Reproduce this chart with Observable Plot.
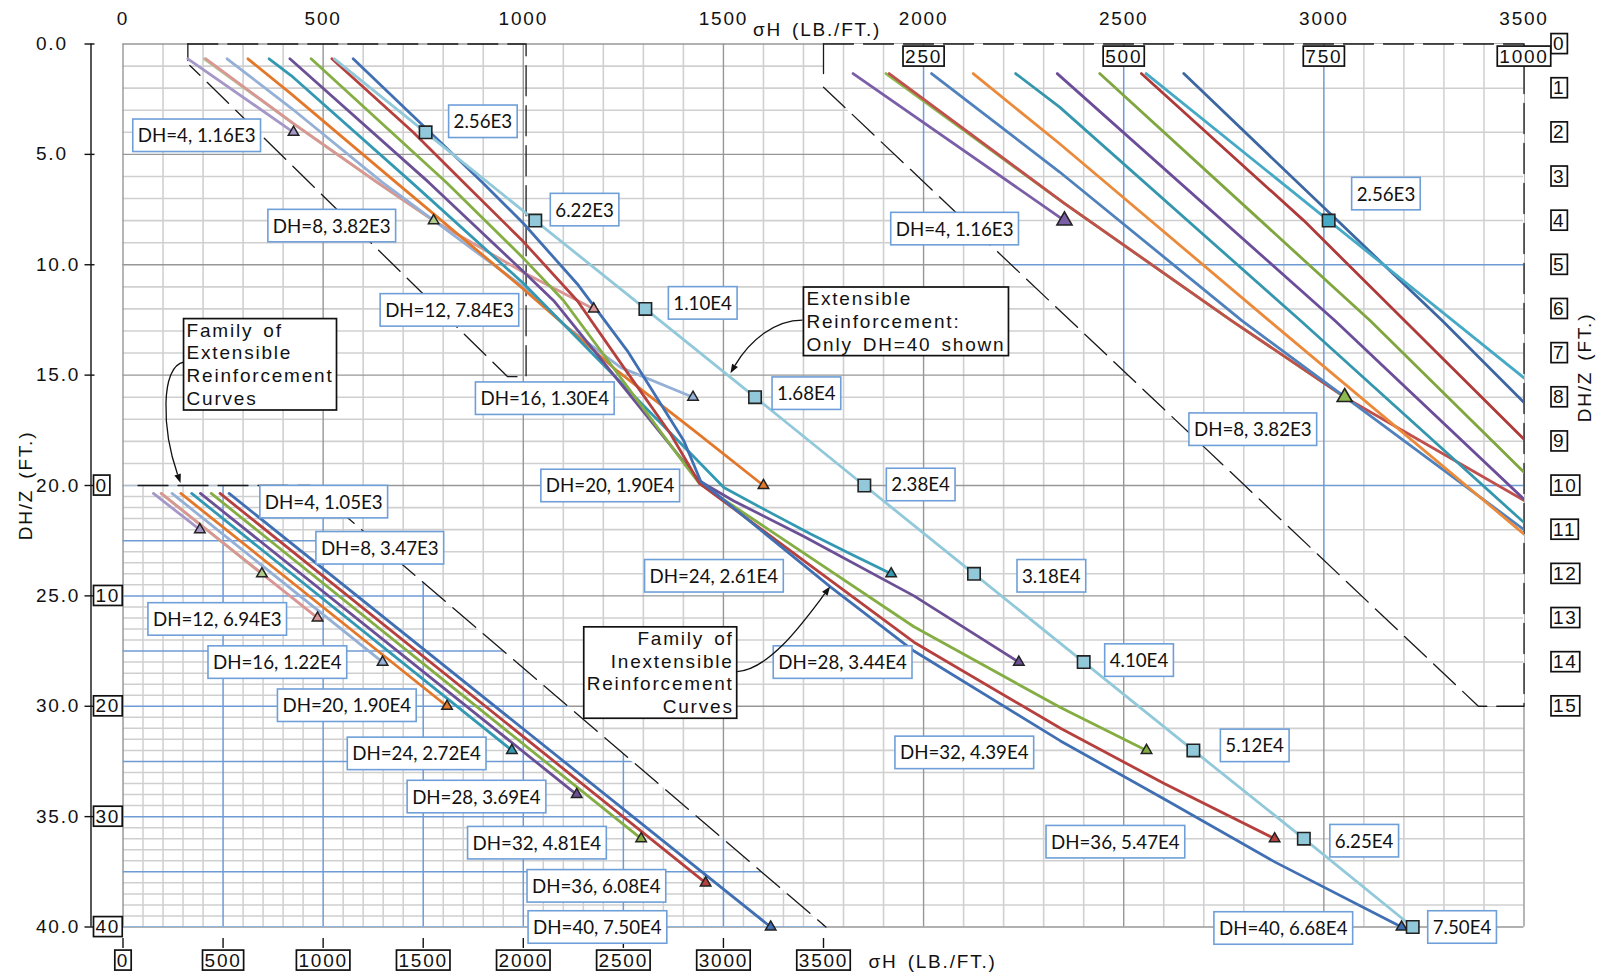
<!DOCTYPE html>
<html>
<head>
<meta charset="utf-8">
<script src="https://cdn.jsdelivr.net/npm/d3@7"></script>
<script src="https://cdn.jsdelivr.net/npm/@observablehq/plot@0.6"></script>
<style>
  html, body { margin: 0; padding: 0; background: #fff; }
  #chart svg { display: block; }
</style>
</head>
<body>
<div id="chart"></div>
<script>
// ---------------------------------------------------------------------------
// Inextensible reinforcement curves, points are [σH (lb/ft), DH/Z (ft)]
// ---------------------------------------------------------------------------
const inextDH4  = [[162, 0.67], [426, 4]];
const inextDH8  = [[203, 0.67], [425, 3.6], [635, 6.27], [776, 8]];
const inextDH12 = [[207, 0.67], [425, 3.6], [635, 6.27], [776, 8], [1008, 10.42], [1176, 12]];
const inextDH16 = [[260, 0.67], [420, 2.9], [648, 6.27], [1000, 11.0], [1110, 12.84], [1243, 14.65], [1424, 16]];
const inextDH20 = [[312, 0.67], [420, 2.26], [682, 6.27], [1000, 11.1], [1234, 14.8], [1426, 17.5], [1600, 20]];
const inextDH24 = [[365, 0.67], [420, 1.43], [721, 6.27], [1000, 10.84], [1043, 11.63], [1426, 18.7], [1501, 20.09], [1609, 21.15], [1718, 22.2], [1818, 23.1], [1919, 24]];
const inextDH28 = [[417, 0.67], [764, 6.27], [1000, 10.31], [1076, 11.63], [1440, 19.8], [1526, 20.7], [1700, 22.3], [1976, 25.0], [2238, 28]];
const inextDH32 = [[470, 0.67], [808, 6.27], [1000, 9.7], [1101, 11.63], [1410, 19.2], [1440, 19.9], [1976, 26.4], [2342, 30.06], [2557, 32]];
const inextDH36 = [[522, 0.67], [725, 4], [851, 6.27], [1000, 8.95], [1135, 11.63], [1251, 14.65], [1368, 17.67], [1440, 19.9], [1976, 27.1], [2342, 31.0], [2601, 33.5], [2877, 36]];
const inextDH40 = [[575, 0.67], [767, 4], [898, 6.27], [1000, 8.12], [1135, 10.87], [1260, 13.9], [1401, 17.97], [1443, 19.8], [1768, 24.6], [1976, 27.5], [2342, 31.57], [2601, 34.2], [2877, 37.05], [3194, 40]];

const inextLabels = ["DH=4, 1.16E3", "DH=8, 3.82E3", "DH=12, 7.84E3", "DH=16, 1.30E4", "DH=20, 1.90E4",
                     "DH=24, 2.61E4", "DH=28, 3.44E4", "DH=32, 4.39E4", "DH=36, 5.47E4", "DH=40, 6.68E4"];

// Extensible reinforcement, DH = 40 (square markers every 4 ft)
const extDH40Main = [[528, 0.67], [756, 4], [1030, 8], [1305, 12], [1579, 16], [1852, 20],
                     [2126, 24], [2400, 28], [2674, 32], [2950, 36], [3222, 40]];
const extLabels = ["2.56E3", "6.22E3", "1.10E4", "1.68E4", "2.38E4", "3.18E4", "4.10E4", "5.12E4", "6.25E4", "7.50E4"];

// Extensible family (reduced view, its own σH 0–3500 and DH/Z 0–40 scale)
const extDH4  = [[152, 0.72], [384, 4]];
const extDH8  = [[191, 0.72], [694, 8]];
const extDH12 = [[191, 0.72], [972, 12]];
const extDH16 = [[245, 0.72], [1297, 16]];
const extDH20 = [[289, 0.72], [1619, 20]];
const extDH24 = [[343, 0.72], [1943, 24]];
const extDH28 = [[387, 0.72], [2267, 28]];
const extDH32 = [[441, 0.72], [2589, 32]];
const extDH36 = [[485, 0.72], [2911, 36]];
const extDH40 = [[530, 0.72], [3236, 40]];
const extFamilyLabels = ["DH=4, 1.05E3", "DH=8, 3.47E3", "DH=12, 6.94E3", "DH=16, 1.22E4", "DH=20, 1.90E4",
                         "DH=24, 2.72E4", "DH=28, 3.69E4", "DH=32, 4.81E4", "DH=36, 6.08E4", "DH=40, 7.50E4"];

// Axis tick values
const xTicks = [0, 500, 1000, 1500, 2000, 2500, 3000, 3500];
const yTicks = [0, 5, 10, 15, 20, 25, 30, 35, 40];
const enlargedTicksX = [250, 500, 750, 1000];
const enlargedTicksY = [0, 1, 2, 3, 4, 5, 6, 7, 8, 9, 10, 11, 12, 13, 14, 15];
const reducedTicksX = [0, 500, 1000, 1500, 2000, 2500, 3000, 3500];
const reducedTicksY = [0, 10, 20, 30, 40];

// Outlines of the enlarged (upper right) and reduced (lower left) views, in their own units,
// and the outline of the source region in the main units
const enlargedFrame = [[125, 0], [1000, 0], [1000, 15], [943, 15], [125, 0.98]];
const enlargedStub = [[125, 0], [125, 0.67]];
const reducedFrame = [[0, 0], [934, 0], [3512, 40], [0, 40]];
const reducedEdge = [[75, 0], [934, 0], [3512, 40]];
const sourceRegionEdge = [[162, 0], [1007, 0], [1007, 15.07], [961, 15.07], [167, 0.97]];
const sourceRegionStub = [[162, 0], [162, 0.75]];

// Annotations
const noteText = ["Family of\nExtensible\nReinforcement\nCurves",
                  "Extensible\nReinforcement:\nOnly DH=40 shown",
                  "Family of\nInextensible\nReinforcement\nCurves"];

// ---------------------------------------------------------------------------
// Styling and layout
// ---------------------------------------------------------------------------
const lightPalette = ["#a597c8", "#aecb8a", "#d99694", "#95b0d6", "#e3782b", "#3399b3", "#6c5096", "#84ad44", "#b5403e", "#4070b3"];
const darkPalette  = ["#7b5ea8", "#8db94f", "#c0504d", "#4f81bd", "#ea8a3a", "#3597ae", "#6b4d99", "#7fa63f", "#ae3a3a", "#3d67a2"];
const extMainColor = "#92c9da";
const extEnlargedColor = "#46a9c5";

const toEnlarged = ([s, z]) => [1500 + 2 * s, 2 * z];   // enlarged view drawn at twice the scale
const toReduced = ([s, z]) => [s / 2, 20 + z / 2];      // reduced view drawn at half the scale

const inextCurves = [inextDH4, inextDH8, inextDH12, inextDH16, inextDH20, inextDH24, inextDH28, inextDH32, inextDH36, inextDH40];
const extFamily = [extDH4, extDH8, extDH12, extDH16, extDH20, extDH24, extDH28, extDH32, extDH36, extDH40];

// label offsets in pixels from their marker: [dx, dy, anchor]
const inextLabelShift = [[-38, 4], [-43, 6], [-80, 2], [-84, 2], [-89, 1], [-113, 3], [-112, 1], [-118, 3], [-95, 4], [-54, 2]];
const extLabelShift = [[28, -10], [20, -10], [28, -5], [22, -3], [27, 0], [48, 3], [26, -1], [32, -4], [31, 3], [20, 1]];
const familyLabelShift = [[65, -27, "start"], [59, -25, "start"], [-36, 2], [-41, 1], [-36, 0], [-31, 4], [-36, 3], [-40, 5], [-45, 4], [-109, 1]];
const enlargedLabelShift = [[-51, 9, "end"], [-33, 33, "end"], [28, -26, "start"]];
const noteTextShift = [[5.5, -122, "start"], [79, -54.6, "start"], [-97, 84.7, "end"]];
const noteArrowPath = [
  [[3.5, -123], [-20.5, -119], [-18.5, -55], [0, -2]],
  [[75.5, -54.6], [48, -54.6], [23, -34.6], [3.5, -1.5]],
  [[-93, 85], [-60, 83], [-25, 33], [0, 0]]
];

// ---------------------------------------------------------------------------
// Derived rows
// ---------------------------------------------------------------------------
const pt = ([s, z]) => ({s, z});
const mainLines = inextCurves.flatMap((c, i) => c.map(p => ({...pt(p), key: "i" + i, color: lightPalette[i]})));
const mainEnds = inextCurves.map((c, i) => ({...pt(c.at(-1)), color: lightPalette[i], label: inextLabels[i]}));
const extSquares = extDH40Main.slice(1).map((p, i) => ({...pt(p), label: extLabels[i]}));

const enlargedLines = inextCurves.flatMap((c, i) => c.map(p => ({...pt(toEnlarged(p)), key: "e" + i, color: darkPalette[i]})))
  .concat(extDH40Main.map(p => ({...pt(toEnlarged(p)), key: "ext", color: extEnlargedColor})));
const enlargedEnds = inextCurves.map((c, i) => ({...pt(toEnlarged(c.at(-1))), color: darkPalette[i]}));
const enlargedSquares = extDH40Main.slice(1).map(p => pt(toEnlarged(p)));
const enlargedLabelRows = [
  {...pt(toEnlarged(inextDH4.at(-1))), label: inextLabels[0]},
  {...pt(toEnlarged(inextDH8.at(-1))), label: inextLabels[1]},
  {...pt(toEnlarged(extDH40Main[1])), label: extLabels[0]}
];

const reducedLines = extFamily.flatMap((c, i) => c.map(p => ({...pt(toReduced(p)), key: "r" + i, color: lightPalette[i]})));
const reducedEnds = extFamily.map((c, i) => ({...pt(toReduced(c.at(-1))), color: lightPalette[i], label: extFamilyLabels[i]}));

const enlargedPoly = enlargedFrame.map(toEnlarged);
const reducedPoly = reducedFrame.map(toReduced);

const noteTargets = [toReduced([290, 0]), [1510, 15], [1768, 24.6]];
const noteRows = noteText.map((t, i) => ({s: noteTargets[i][0], z: noteTargets[i][1], label: t}));

// ---------------------------------------------------------------------------
// Helpers
// ---------------------------------------------------------------------------
const SVGNS = "http://www.w3.org/2000/svg";
let clipCount = 0;
// clip a mark to a polygon given in main data units
const clipTo = (poly) => function (index, scales, values, dimensions, context, next) {
  const g = next(index, scales, values, dimensions, context);
  if (!g) return g;
  const id = "region-clip-" + (++clipCount);
  const wrap = document.createElementNS(SVGNS, "g");
  const cp = document.createElementNS(SVGNS, "clipPath");
  cp.setAttribute("id", id);
  const pg = document.createElementNS(SVGNS, "polygon");
  pg.setAttribute("points", poly.map(([s, z]) => `${scales.x(s)},${scales.y(z)}`).join(" "));
  cp.append(pg);
  wrap.append(cp);
  g.setAttribute("clip-path", `url(#${id})`);
  wrap.append(g);
  return wrap;
};

const XY = {x: d => d[0], y: d => d[1]};
const cad = {fontFamily: "Liberation Sans", fontSize: 19, fill: "#111", lineAnchor: "middle"};
const lbl = {fontFamily: "Lato", fontSize: 18.7, fill: "#111", ariaDescription: "label-box"};

const labelMarks = (rows, shifts, anchor) => rows.map((r, i) => Plot.text([r], {
  x: "s", y: "z", text: "label", dx: shifts[i][0], dy: shifts[i][1],
  textAnchor: shifts[i][2] ?? anchor, ...lbl
}));

// curved leader arrows from the note boxes
const arrowMark = (index, scales) => {
  const g = document.createElementNS(SVGNS, "g");
  noteTargets.forEach((t, i) => {
    const tx = scales.x(t[0]), ty = scales.y(t[1]);
    const [p0, p1, p2, p3] = noteArrowPath[i].map(([dx, dy]) => [tx + dx, ty + dy]);
    const a = Math.atan2(p3[1] - p2[1], p3[0] - p2[0]);
    const L = 9, w = 3.4;
    const base = [p3[0] - L * Math.cos(a), p3[1] - L * Math.sin(a)];
    const path = document.createElementNS(SVGNS, "path");
    path.setAttribute("d", `M${p0}C${p1} ${p2} ${base}`);
    path.setAttribute("fill", "none");
    path.setAttribute("stroke", "#111");
    path.setAttribute("stroke-width", 1.3);
    g.append(path);
    const head = document.createElementNS(SVGNS, "path");
    const b1 = [base[0] - w * Math.sin(a), base[1] + w * Math.cos(a)];
    const b2 = [base[0] + w * Math.sin(a), base[1] - w * Math.cos(a)];
    head.setAttribute("d", `M${p3}L${b1}L${b2}Z`);
    head.setAttribute("fill", "#111");
    g.append(head);
  });
  return g;
};

const minorGrid = {stroke: "#d0d0d0", strokeWidth: 1.6};
const majorGrid = {stroke: "#979797", strokeWidth: 1.4};
const insetMinor = {stroke: "#cfcfcf", strokeWidth: 1.5};
const insetMajor = {stroke: "#6f9bd4", strokeWidth: 1.5};
const dashed = {stroke: "#1a1a1a", strokeWidth: 1.3, strokeDasharray: "30,10"};

// ---------------------------------------------------------------------------
// Plot
// ---------------------------------------------------------------------------
const chart = Plot.plot({
  width: 1601,
  height: 976,
  marginLeft: 122.5,
  marginRight: 77.5,
  marginTop: 43.5,
  marginBottom: 49.5,
  x: {domain: [0, 3500], axis: null},
  y: {domain: [0, 40], reverse: true, axis: null},
  color: {type: "identity"},
  style: {background: "white", overflow: "visible"},
  marks: [
    // main grid
    Plot.ruleX(d3.range(0, 3501, 100).filter(v => v % 500), minorGrid),
    Plot.ruleY(d3.range(0, 41, 1).filter(v => v % 5), minorGrid),
    Plot.ruleX(d3.range(0, 3501, 500), majorGrid),
    Plot.ruleY(d3.range(0, 41, 5), majorGrid),

    // enlarged view: background and grid
    Plot.line(enlargedPoly, {...XY, fill: "white", stroke: "none"}),
    Plot.ruleX(d3.range(150, 1000, 50).filter(v => v % 250).map(v => 1500 + 2 * v),
      {y1: 0, y2: 30, ...insetMinor, render: clipTo(enlargedPoly)}),
    Plot.ruleY(d3.range(1, 15).filter(v => v % 5).map(v => 2 * v),
      {x1: 1740, x2: 3500, ...insetMinor, render: clipTo(enlargedPoly)}),
    Plot.ruleX([250, 500, 750].map(v => 1500 + 2 * v), {y1: 0, y2: 30, ...insetMajor, render: clipTo(enlargedPoly)}),
    Plot.ruleY([5, 10].map(v => 2 * v), {x1: 1740, x2: 3500, ...insetMajor, render: clipTo(enlargedPoly)}),

    // reduced view: background and grid
    Plot.line(reducedPoly, {...XY, fill: "white", stroke: "none"}),
    Plot.ruleX(d3.range(100, 3500, 100).filter(v => v % 500).map(v => v / 2),
      {y1: 20, y2: 40, ...insetMinor, render: clipTo(reducedPoly)}),
    Plot.ruleY(d3.range(1, 40).filter(v => v % 5).map(v => 20 + v / 2),
      {x1: 0, x2: 1760, ...insetMinor, render: clipTo(reducedPoly)}),
    Plot.ruleX(d3.range(0, 3501, 500).map(v => v / 2), {y1: 20, y2: 40, ...insetMajor, render: clipTo(reducedPoly)}),
    Plot.ruleY(d3.range(0, 41, 5).map(v => 20 + v / 2), {x1: 0, x2: 1760, ...insetMajor, render: clipTo(reducedPoly)}),

    // dashed outlines
    Plot.line(sourceRegionEdge, {...XY, ...dashed}),
    Plot.line(sourceRegionStub, {...XY, stroke: "#1a1a1a", strokeWidth: 1.3}),
    Plot.line(enlargedFrame.map(toEnlarged), {...XY, ...dashed}),
    Plot.line(enlargedStub.map(toEnlarged), {...XY, stroke: "#1a1a1a", strokeWidth: 1.3}),
    Plot.line(reducedEdge.map(toReduced), {...XY, ...dashed}),

    // curves
    Plot.line(mainLines, {x: "s", y: "z", z: "key", stroke: "color", strokeWidth: 2.8, strokeLinejoin: "round"}),
    Plot.line(extDH40Main, {...XY, stroke: extMainColor, strokeWidth: 2.8}),
    Plot.line(enlargedLines, {x: "s", y: "z", z: "key", stroke: "color", strokeWidth: 2.8, render: clipTo(enlargedPoly)}),
    Plot.line(reducedLines, {x: "s", y: "z", z: "key", stroke: "color", strokeWidth: 2.8}),

    // markers
    Plot.dot(mainEnds, {x: "s", y: "z", symbol: "triangle", r: 3.9, fill: "color", stroke: "#222", strokeWidth: 1.5}),
    Plot.dot(extSquares, {x: "s", y: "z", symbol: "square", r: 7, fill: extMainColor, stroke: "#222", strokeWidth: 1.6}),
    Plot.dot(enlargedEnds, {x: "s", y: "z", symbol: "triangle", r: 5.6, fill: "color", stroke: "#222", strokeWidth: 1.6, render: clipTo(enlargedPoly)}),
    Plot.dot(enlargedSquares, {x: "s", y: "z", symbol: "square", r: 7, fill: extEnlargedColor, stroke: "#222", strokeWidth: 1.6, render: clipTo(enlargedPoly)}),
    Plot.dot(reducedEnds, {x: "s", y: "z", symbol: "triangle", r: 3.9, fill: "color", stroke: "#222", strokeWidth: 1.5}),

    // left axis
    Plot.ruleX([0], {y1: 0, y2: 40, dx: -32, stroke: "#111", strokeWidth: 1.4}),
    Plot.ruleY(yTicks, {y: d => d, x1: 0, x2: 0, insetLeft: -10, dx: -28, stroke: "#111", strokeWidth: 1.4}),
    Plot.text(yTicks, {y: d => d, text: d => d.toFixed(1), frameAnchor: "left", dx: -87, textAnchor: "start", ...cad, ariaDescription: "cad"}),
    // top axis labels and titles
    Plot.text(xTicks, {x: d => d, text: d => String(d), frameAnchor: "top", dy: -25.5, textAnchor: "middle", ...cad, ariaDescription: "cad"}),
    Plot.text(["σH (LB./FT.)"], {text: d => d, frameAnchor: "top", dx: -6.5, dy: -14, textAnchor: "middle", ...cad, ariaDescription: "cad"}),
    Plot.text(["σH (LB./FT.)"], {text: d => d, frameAnchor: "bottom", dx: 45, dy: 34.5, textAnchor: "start", ...cad, ariaDescription: "cad"}),
    Plot.text(["DH/Z (FT.)"], {text: d => d, frameAnchor: "left", dx: -97, rotate: -90, textAnchor: "middle", ...cad, ariaDescription: "cad"}),
    Plot.text(["DH/Z (FT.)"], {text: d => d, frameAnchor: "right", dx: 61, dy: -118, rotate: -90, textAnchor: "middle", ...cad, ariaDescription: "cad"}),

    // boxed scales of the enlarged and reduced views
    Plot.text(enlargedTicksX, {x: d => 1500 + 2 * d, text: d => String(d), frameAnchor: "top", dy: 12.5, textAnchor: "middle", ...cad, ariaDescription: "cad-boxed"}),
    Plot.text(enlargedTicksY, {y: d => 2 * d, text: d => String(d), frameAnchor: "right", dx: 29, textAnchor: "start", ...cad, ariaDescription: "cad-boxed"}),
    Plot.ruleX(reducedTicksX, {x: d => d / 2, y1: 40, y2: 40, insetTop: -5, insetBottom: -5, dy: 16.5, stroke: "#111", strokeWidth: 1.4}),
    Plot.text(reducedTicksX, {x: d => d / 2, text: d => String(d), frameAnchor: "bottom", dy: 33.5, textAnchor: "middle", ...cad, ariaDescription: "cad-boxed"}),
    Plot.text(reducedTicksY, {y: d => 20 + d / 2, text: d => String(d), frameAnchor: "left", dx: -27.5, textAnchor: "start", ...cad, ariaDescription: "cad-boxed"}),

    // value labels
    ...labelMarks(mainEnds, inextLabelShift, "end"),
    ...labelMarks(extSquares, extLabelShift, "start"),
    ...labelMarks(reducedEnds, familyLabelShift, "end"),
    ...labelMarks(enlargedLabelRows, enlargedLabelShift, "end"),

    // notes
    ...noteRows.map((r, i) => Plot.text([r], {
      x: "s", y: "z", text: "label", dx: noteTextShift[i][0], dy: noteTextShift[i][1],
      textAnchor: noteTextShift[i][2], lineHeight: 1.2, ...cad, ariaDescription: "cad-note"
    })),
    arrowMark
  ]
});

document.getElementById("chart").append(chart);

// letter spacing of the drafting-style text
chart.querySelectorAll('g[aria-description^="cad"]').forEach(g => {
  g.style.letterSpacing = "1.8px";
  g.style.wordSpacing = "3px";
});

// white boxes behind labels
function boxTexts(desc, {padX, height, padY = 0, stroke, strokeWidth}) {
  chart.querySelectorAll(`g[aria-description="${desc}"] text`).forEach(t => {
    const b = t.getBBox();
    const h = height ?? b.height + 2 * padY;
    const cy = b.y + b.height / 2;
    const r = document.createElementNS(SVGNS, "rect");
    r.setAttribute("x", b.x - padX);
    r.setAttribute("y", cy - h / 2);
    r.setAttribute("width", b.width + 2 * padX);
    r.setAttribute("height", h);
    r.setAttribute("fill", "white");
    r.setAttribute("stroke", stroke);
    r.setAttribute("stroke-width", strokeWidth);
    const tr = t.getAttribute("transform");
    if (tr) r.setAttribute("transform", tr);
    t.parentNode.insertBefore(r, t);
  });
}
boxTexts("label-box", {padX: 5, height: 32.5, stroke: "#6f9fd8", strokeWidth: 1.6});
boxTexts("cad-boxed", {padX: 2, height: 20, stroke: "#111", strokeWidth: 1.7});
boxTexts("cad-note", {padX: 3, padY: 1, stroke: "#111", strokeWidth: 1.7});
</script>
</body>
</html>
